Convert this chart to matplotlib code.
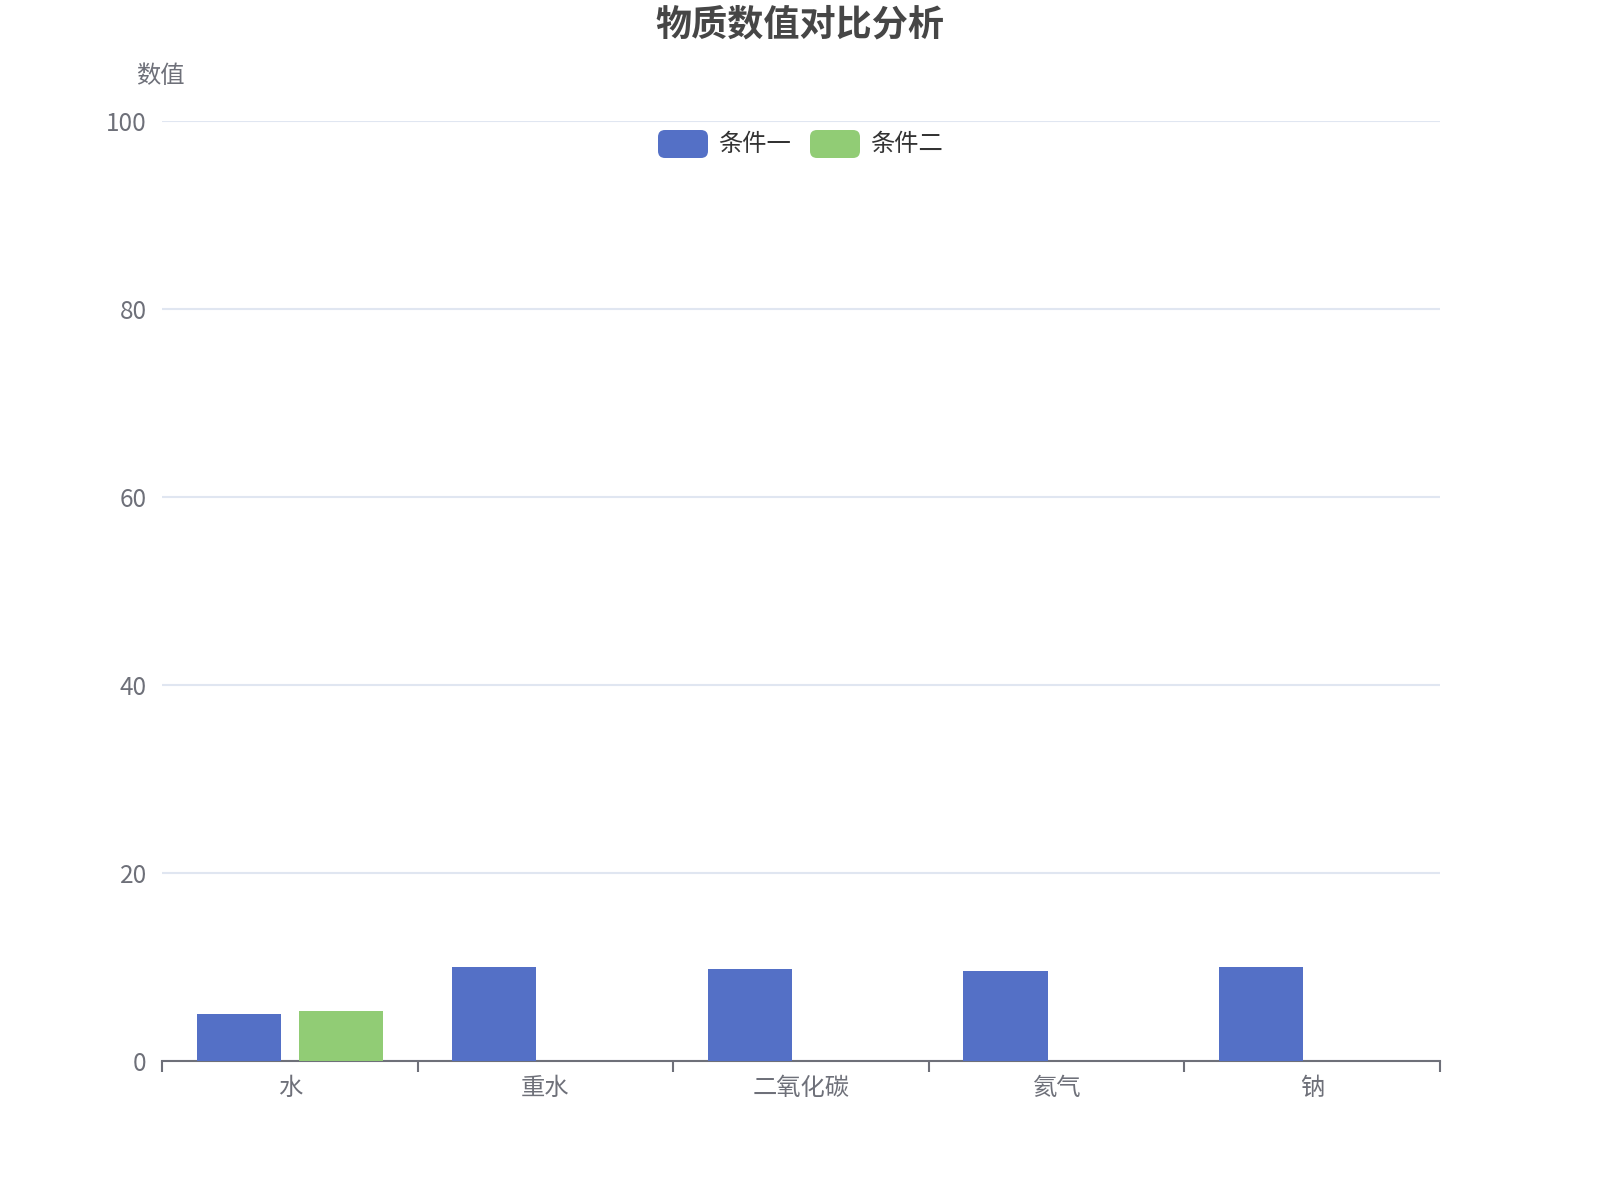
import numpy as np
import matplotlib.pyplot as plt
from matplotlib.patches import FancyBboxPatch

plt.rcParams['font.family'] = ['Noto Sans CJK SC', 'DejaVu Sans']

categories = ['水', '重水', '二氧化碳', '氦气', '钠']
series_names = ['条件一', '条件二']
cond1 = [5.0, 10.0, 9.75, 9.6, 10.0]
cond2 = [5.3, 0, 0, 0, 0]
colors = ['#5470c6', '#91cc75']

W, H = 1600, 1200
fig = plt.figure(figsize=(16, 12), dpi=100)
ax = fig.add_axes([162 / W, 1 - 1061 / H, (1440 - 162) / W, (1061 - 121) / H])

x = np.arange(len(categories))
ax.bar(x - 0.2, cond1, width=0.33, color=colors[0], zorder=3)
ax.bar(x + 0.2, cond2, width=0.33, color=colors[1], zorder=3)

ax.set_xlim(-0.5, len(categories) - 0.5)
ax.set_ylim(0, 100)
ax.set_yticks([0, 20, 40, 60, 80, 100])
ax.grid(axis='y', color='#e0e6f1', linewidth=1.5, zorder=0)
ax.tick_params(axis='y', length=0, pad=11, labelsize=17.5, labelcolor='#6e7079')

ax.set_xticks(x)
ax.set_xticklabels(categories)
ax.set_xticks(np.arange(len(categories) + 1) - 0.5, minor=True)
ax.tick_params(axis='x', which='major', length=0, pad=10, labelsize=17.5, labelcolor='#6e7079')
ax.tick_params(axis='x', which='minor', length=8, width=1.5, color='#6e7079')

for s in ['top', 'right', 'left']:
    ax.spines[s].set_visible(False)
ax.spines['bottom'].set_color('#6e7079')
ax.spines['bottom'].set_linewidth(1.5)

fig.text(0.5, 1 - 25 / H, '物质数值对比分析', ha='center', va='center',
         fontsize=26, fontweight='bold', color='#464646')
fig.text(160 / W, 1 - 76 / H, '数值', ha='center', va='center',
         fontsize=17.5, color='#6e7079')

# legend
leg_y = H - 144
item_x = [658, 810]
for name, col, lx in zip(series_names, colors, item_x):
    fig.patches.append(FancyBboxPatch((lx, leg_y - 14), 50, 28,
                                      boxstyle='round,pad=0,rounding_size=7',
                                      facecolor=col, edgecolor='none',
                                      transform=None, figure=fig))
    fig.text((lx + 60) / W, leg_y / H, name, ha='left', va='center',
             fontsize=17.5, color='#333333')

fig.savefig('out.png', dpi=100)
